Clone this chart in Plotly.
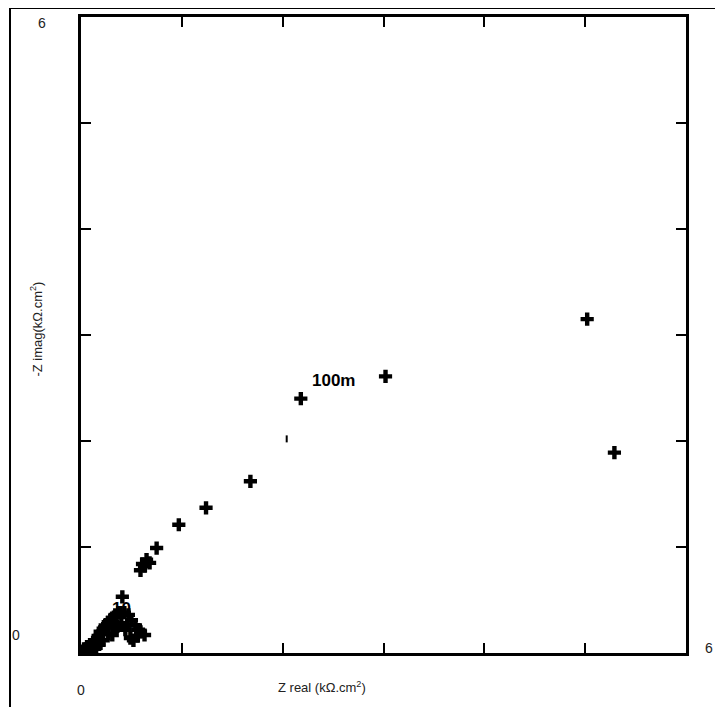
import plotly.graph_objects as go

# Nyquist data (kOhm.cm^2)
z_real = [0.03, 0.06, 0.09, 0.12, 0.14, 0.17, 0.19, 0.22, 0.24, 0.27, 0.29, 0.31,
          0.34, 0.37, 0.39, 0.43, 0.47, 0.50, 0.54, 0.57, 0.59, 0.63,
          0.44, 0.31, 0.49, 0.22, 0.36, 0.52, 0.27, 0.40, 0.46, 0.33, 0.56, 0.12, 0.18,
          0.05, 0.10, 0.15,
          0.41, 0.59, 0.61, 0.63, 0.65, 0.68, 0.75, 0.97,
          1.24, 1.68, 2.18, 3.02, 5.02, 5.29]
z_imag = [0.04, 0.06, 0.08, 0.10, 0.12, 0.16, 0.20, 0.23, 0.26, 0.29, 0.31, 0.33,
          0.36, 0.38, 0.38, 0.38, 0.36, 0.31, 0.26, 0.22, 0.20, 0.17,
          0.22, 0.17, 0.14, 0.12, 0.25, 0.12, 0.18, 0.28, 0.27, 0.24, 0.16, 0.04, 0.08,
          0.02, 0.03, 0.05,
          0.53, 0.78, 0.84, 0.82, 0.88, 0.85, 0.99, 1.21,
          1.37, 1.62, 2.40, 2.61, 3.15, 1.89]
small_x = [2.04]
small_y = [2.02]

freq_labels = ["100m", "10", "1k"]
freq_x = [2.50, 0.40, 0.53]
freq_y = [2.57, 0.42, 0.20]

x_range = [0, 6]
y_range = [0, 6]
tick_vals = [1, 2, 3, 4, 5]

fig = go.Figure()
fig.add_trace(go.Scatter(
    x=z_real, y=z_imag, mode="markers",
    marker=dict(symbol="cross", size=11, color="black",
                line=dict(width=0)),
    showlegend=False, hoverinfo="x+y"))
fig.add_trace(go.Scatter(
    x=small_x, y=small_y, mode="markers",
    marker=dict(symbol="line-ns", size=5, color="black",
                line=dict(width=2, color="black")),
    showlegend=False))

for t, xx, yy in zip(freq_labels, freq_x, freq_y):
    fig.add_annotation(x=xx, y=yy, text="<b>%s</b>" % t, showarrow=False,
                       xanchor="center", yanchor="middle",
                       font=dict(family="Liberation Sans, Arial", size=17, color="black"))

axis_common = dict(showgrid=False, zeroline=False, showline=True, linecolor="black",
                   linewidth=3, mirror="ticks", ticks="inside", ticklen=10, tickwidth=2,
                   tickcolor="black", showticklabels=False, tickvals=tick_vals)
fig.update_xaxes(range=x_range, **axis_common)
fig.update_yaxes(range=y_range, **axis_common)

# page offset: browser default body margin of 8px
OFF = 8
PL, PT, PW, PH = 81, 14, 605, 639


def px(xp):
    return (xp - PL) / PW


def py(yp):
    return (PT + PH - yp) / PH


lab_font = dict(family="Liberation Sans, Arial", size=14, color="#222")
for text, ax_, ay_ in [("6", 42, 20), ("0", 16, 635), ("0", 81, 690), ("6", 709, 648)]:
    fig.add_annotation(x=px(ax_), y=py(ay_), xref="paper", yref="paper",
                       xanchor="center", yanchor="middle",
                       text=text, showarrow=False, font=lab_font)

fig.add_annotation(x=px(322), y=py(687), xref="paper", yref="paper",
                   xanchor="center", yanchor="middle",
                   text="Z real (kΩ.cm<sup>2</sup>)", showarrow=False,
                   font=dict(family="Liberation Sans, Arial", size=13, color="#222"))
fig.add_annotation(x=px(36), y=py(328), xref="paper", yref="paper",
                   xanchor="center", yanchor="middle",
                   text="-Z imag(kΩ.cm<sup>2</sup>)", showarrow=False, textangle=-90,
                   font=dict(family="Liberation Sans, Arial", size=13, color="#222"))

# outer frame (top and left edges)
fx0 = px(10)
fy0 = py(5)
fig.add_shape(type="line", xref="paper", yref="paper", x0=fx0, y0=fy0, x1=1.1, y1=fy0,
              line=dict(color="black", width=2))
fig.add_shape(type="line", xref="paper", yref="paper", x0=fx0, y0=fy0, x1=fx0, y1=-0.1,
              line=dict(color="black", width=2))

fig.update_layout(width=723 - OFF, height=707 - OFF, plot_bgcolor="white",
                  paper_bgcolor="white",
                  margin=dict(l=PL - OFF, r=723 - PL - PW, t=PT - OFF, b=707 - PT - PH))
fig.write_html("out.html")
